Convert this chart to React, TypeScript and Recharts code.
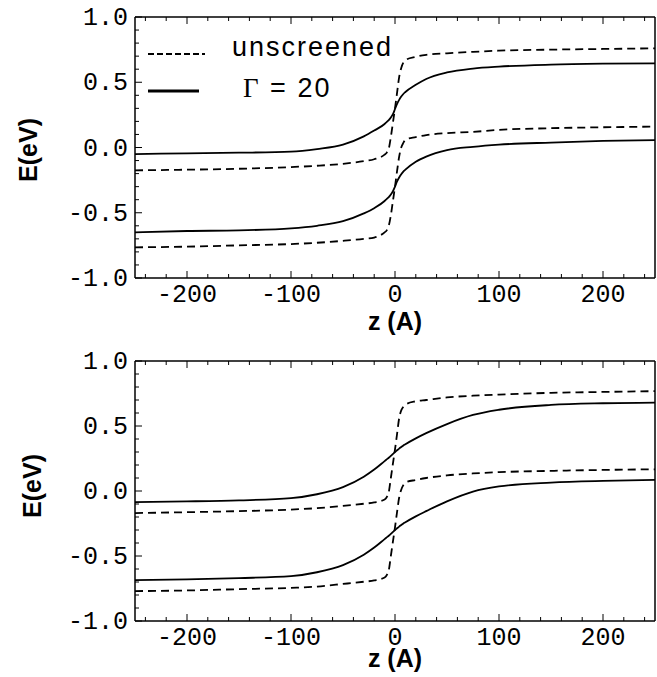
import React from "react";
import { LineChart, Line, XAxis, YAxis, Legend, Label } from "recharts";

// z positions (Angstrom) shared by all curves
const zValues = [
  -250, -200, -150, -100, -75, -50, -30, -20, -10, -8, -6, -4, -2, 0, 2, 4, 6,
  8, 10, 20, 30, 50, 75, 100, 150, 200, 250,
];

// top panel
const topDashUpper = [
  -0.175, -0.17, -0.163, -0.15, -0.14, -0.125, -0.105, -0.09, -0.055, -0.04,
  -0.01, 0.08, 0.19, 0.3, 0.42, 0.54, 0.61, 0.65, 0.67, 0.695, 0.71, 0.722,
  0.733, 0.742, 0.75, 0.755, 0.76,
];
const topDashLower = [
  -0.765, -0.76, -0.75, -0.74, -0.73, -0.715, -0.7, -0.69, -0.65, -0.635, -0.6,
  -0.52, -0.41, -0.3, -0.18, -0.07, 0.0, 0.035, 0.06, 0.08, 0.095, 0.11, 0.12,
  0.135, 0.148, 0.155, 0.16,
];
const topSolidUpper = [
  -0.05, -0.045, -0.04, -0.032, -0.012, 0.022, 0.085, 0.13, 0.18, 0.195, 0.21,
  0.23, 0.255, 0.295, 0.335, 0.365, 0.39, 0.41, 0.425, 0.48, 0.525, 0.575,
  0.605, 0.62, 0.635, 0.642, 0.645,
];
const topSolidLower = [
  -0.65, -0.64, -0.635, -0.62, -0.6, -0.565, -0.505, -0.465, -0.41, -0.395,
  -0.38, -0.36, -0.335, -0.3, -0.26, -0.23, -0.205, -0.185, -0.17, -0.11, -0.07,
  -0.02, 0.005, 0.022, 0.038, 0.05, 0.057,
];

// bottom panel
const botDashUpper = [
  -0.17, -0.163, -0.155, -0.143, -0.132, -0.115, -0.098, -0.088, -0.065, -0.048,
  -0.01, 0.1, 0.21, 0.32, 0.44, 0.56, 0.62, 0.648, 0.665, 0.69, 0.7, 0.72,
  0.733, 0.742, 0.755, 0.762, 0.768,
];
const botDashLower = [
  -0.77, -0.765, -0.755, -0.745, -0.735, -0.715, -0.698, -0.688, -0.665, -0.648,
  -0.61, -0.5, -0.39, -0.28, -0.16, -0.05, 0.01, 0.045, 0.065, 0.085, 0.1, 0.12,
  0.135, 0.145, 0.155, 0.162, 0.167,
];
const botSolidUpper = [
  -0.085, -0.08, -0.072, -0.055, -0.025, 0.03, 0.11, 0.165, 0.23, 0.243, 0.256,
  0.27, 0.285, 0.3, 0.313, 0.326, 0.338, 0.35, 0.36, 0.405, 0.445, 0.515, 0.585,
  0.625, 0.662, 0.675, 0.68,
];
const botSolidLower = [
  -0.685, -0.68, -0.67, -0.655, -0.625, -0.57, -0.49, -0.435, -0.37, -0.357,
  -0.344, -0.33, -0.315, -0.3, -0.287, -0.274, -0.262, -0.25, -0.24, -0.195,
  -0.155, -0.08, -0.005, 0.035, 0.065, 0.078, 0.085,
];

const xTicks = [
  -240, -220, -200, -180, -160, -140, -120, -100, -80, -60, -40, -20, 0, 20, 40,
  60, 80, 100, 120, 140, 160, 180, 200, 220, 240,
];
const yTicks = [
  -1, -0.9, -0.8, -0.7, -0.6, -0.5, -0.4, -0.3, -0.2, -0.1, 0, 0.1, 0.2, 0.3,
  0.4, 0.5, 0.6, 0.7, 0.8, 0.9, 1,
];

const MONO = "'Liberation Mono', 'Courier New', monospace";
const SANS = "'Liberation Sans', Arial, Helvetica, sans-serif";

const isMajorX = (v: number) => v % 100 === 0;
const isMajorY = (v: number) => Math.abs(v * 2 - Math.round(v * 2)) < 1e-6;

const BottomTick = (props: any) => {
  const { x, y, payload } = props;
  const major = isMajorX(payload.value);
  return (
    <g>
      <line x1={x} x2={x} y1={y} y2={y - (major ? 7 : 4)} stroke="#000" strokeWidth={1} />
      {major && (
        <text x={x} y={y + 24} textAnchor="middle" fontFamily={MONO} fontSize={25} fill="#000">
          {payload.value}
        </text>
      )}
    </g>
  );
};

const TopTick = (props: any) => {
  const { x, y, payload } = props;
  const major = isMajorX(payload.value);
  return <line x1={x} x2={x} y1={y} y2={y + (major ? 7 : 4)} stroke="#000" strokeWidth={1} />;
};

const LeftTick = (props: any) => {
  const { x, y, payload } = props;
  const major = isMajorY(payload.value);
  return (
    <g>
      <line x1={x} x2={x + (major ? 7 : 4)} y1={y} y2={y} stroke="#000" strokeWidth={1} />
      {major && (
        <text x={x - 7} y={y + 8} textAnchor="end" fontFamily={MONO} fontSize={25} fill="#000">
          {Number(payload.value).toFixed(1)}
        </text>
      )}
    </g>
  );
};

const RightTick = (props: any) => {
  const { x, y, payload } = props;
  const major = isMajorY(payload.value);
  return <line x1={x} x2={x - (major ? 7 : 4)} y1={y} y2={y} stroke="#000" strokeWidth={1} />;
};

const LegendBox = () => (
  <svg width={290} height={80} style={{ display: "block" }}>
    <line x1={8} x2={65} y1={29} y2={29} stroke="#000" strokeWidth={2} strokeDasharray="6 3" />
    <text x={92} y={31} fontFamily={SANS} fontSize={27} letterSpacing={2} fill="#000">
      unscreened
    </text>
    <line x1={8} x2={59} y1={66} y2={66} stroke="#000" strokeWidth={3} />
    <text x={103} y={72} fontFamily={SANS} fontSize={27} letterSpacing={2} fill="#000">
      <tspan fontFamily="'Liberation Serif', 'Times New Roman', serif">Γ</tspan> = 20
    </text>
  </svg>
);

interface PanelProps {
  height: number;
  topAxis: number;
  bottomAxis: number;
  dashUpper: number[];
  dashLower: number[];
  solidUpper: number[];
  solidLower: number[];
  yTitle: { x: number; y: number };
  xTitleY: number;
  showLegend?: boolean;
}

const Panel = (p: PanelProps) => {
  const data = zValues.map((z, i) => ({
    z,
    dashUpper: p.dashUpper[i],
    dashLower: p.dashLower[i],
    solidUpper: p.solidUpper[i],
    solidLower: p.solidLower[i],
  }));

  return (
    <LineChart width={657} height={p.height} data={data} margin={{ top: 0, right: 0, bottom: 0, left: 0 }}>
      <XAxis
        xAxisId="bottom"
        dataKey="z"
        type="number"
        domain={[-250, 250]}
        ticks={xTicks}
        interval={0}
        height={p.bottomAxis}
        tickSize={0}
        tickMargin={0}
        tickLine={false}
        axisLine={{ stroke: "#000", strokeWidth: 1.5 }}
        tick={<BottomTick />}
      >
        <Label
          content={() => (
            <text x={395} y={p.xTitleY} textAnchor="middle" fontFamily={SANS} fontWeight="bold" fontSize={25} fill="#000">
              z (A)
            </text>
          )}
        />
      </XAxis>
      <XAxis
        xAxisId="top"
        orientation="top"
        dataKey="z"
        type="number"
        domain={[-250, 250]}
        ticks={xTicks}
        interval={0}
        height={p.topAxis}
        tickSize={0}
        tickMargin={0}
        tickLine={false}
        axisLine={{ stroke: "#000", strokeWidth: 1.5 }}
        tick={<TopTick />}
      />
      <YAxis
        yAxisId="left"
        type="number"
        domain={[-1, 1]}
        ticks={yTicks}
        interval={0}
        width={135}
        tickSize={0}
        tickMargin={0}
        tickLine={false}
        axisLine={{ stroke: "#000", strokeWidth: 1.5 }}
        tick={<LeftTick />}
      >
        <Label
          content={() => (
            <text
              x={p.yTitle.x}
              y={p.yTitle.y}
              transform={`rotate(-90 ${p.yTitle.x} ${p.yTitle.y})`}
              textAnchor="middle"
              dominantBaseline="central"
              fontFamily={SANS}
              fontWeight="bold"
              fontSize={25}
              fill="#000"
            >
              E(eV)
            </text>
          )}
        />
      </YAxis>
      <YAxis
        yAxisId="right"
        orientation="right"
        type="number"
        domain={[-1, 1]}
        ticks={yTicks}
        interval={0}
        width={2}
        tickSize={0}
        tickMargin={0}
        tickLine={false}
        axisLine={{ stroke: "#000", strokeWidth: 1.5 }}
        tick={<RightTick />}
      />
      {p.showLegend && (
        <Legend
          layout="horizontal"
          verticalAlign="middle"
          align="center"
          content={<LegendBox />}
          wrapperStyle={{ left: 140, top: 25, width: 290, height: 80 }}
        />
      )}
      <Line xAxisId="bottom" yAxisId="left" type="monotone" dataKey="dashUpper" stroke="#000" strokeWidth={1.8} strokeDasharray="8 5" dot={false} isAnimationActive={false} />
      <Line xAxisId="bottom" yAxisId="left" type="monotone" dataKey="dashLower" stroke="#000" strokeWidth={1.8} strokeDasharray="8 5" dot={false} isAnimationActive={false} />
      <Line xAxisId="bottom" yAxisId="left" type="monotone" dataKey="solidUpper" stroke="#000" strokeWidth={1.8} dot={false} isAnimationActive={false} />
      <Line xAxisId="bottom" yAxisId="left" type="monotone" dataKey="solidLower" stroke="#000" strokeWidth={1.8} dot={false} isAnimationActive={false} />
    </LineChart>
  );
};

export default function App() {
  return (
    <div style={{ position: "absolute", left: 0, top: 0, width: 657, height: 677, background: "#fff" }}>
      <div style={{ position: "absolute", left: 0, top: 0 }}>
        <Panel
          height={340}
          topAxis={17}
          bottomAxis={62}
          dashUpper={topDashUpper}
          dashLower={topDashLower}
          solidUpper={topSolidUpper}
          solidLower={topSolidLower}
          yTitle={{ x: 28, y: 150 }}
          xTitleY={330}
          showLegend
        />
      </div>
      <div style={{ position: "absolute", left: 0, top: 340 }}>
        <Panel
          height={337}
          topAxis={21}
          bottomAxis={56}
          dashUpper={botDashUpper}
          dashLower={botDashLower}
          solidUpper={botSolidUpper}
          solidLower={botSolidLower}
          yTitle={{ x: 32, y: 146 }}
          xTitleY={327}
        />
      </div>
    </div>
  );
}
